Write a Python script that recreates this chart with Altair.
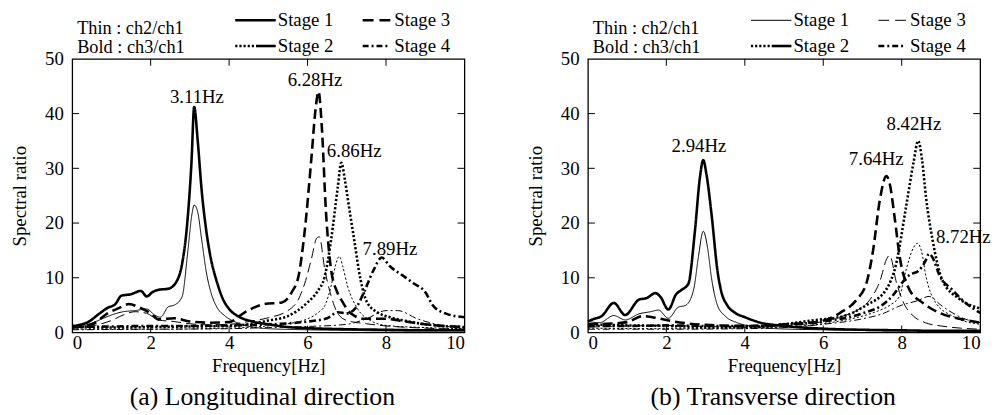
import altair as alt
import pandas as pd

FONT = "Liberation Serif"
W, H = 397, 277

STAGES = ["Stage 1", "Stage 2", "Stage 3", "Stage 4"]
DASHES = [[1, 0], [2.2, 2], [10, 5], [7, 3, 2, 3]]
KINDS = ["thin", "bold"]
WIDTHS = [1.0, 2.6]
XTICKS = [0, 2, 4, 6, 8, 10]
YTICKS = [0, 10, 20, 30, 40, 50]

# ---------------- (a) Longitudinal direction ----------------
A_S1_BOLD_F = [0, 0.2, 0.4, 0.7, 0.9, 1.1, 1.25, 1.5, 1.75, 1.9, 2.05, 2.2, 2.45, 2.65, 2.8, 2.92, 3.04, 3.11, 3.2, 3.3, 3.42, 3.55, 3.67, 3.85, 4.0, 4.25, 4.6, 5.0, 5.5, 6.0, 7.0, 8.0, 9.0, 10.0]
A_S1_BOLD_V = [1.2, 1.4, 1.9, 3.5, 4.5, 5.2, 6.7, 7.0, 7.6, 6.6, 7.4, 7.8, 8.0, 9.2, 12.5, 19.0, 31.0, 41.2, 35.0, 26.0, 18.5, 13.0, 9.7, 6.0, 4.3, 2.9, 2.0, 1.5, 1.0, 0.8, 0.6, 0.5, 0.4, 0.4]
A_S1_THIN_F = [0, 0.3, 0.6, 1.0, 1.3, 1.6, 1.9, 2.1, 2.25, 2.45, 2.6, 2.8, 2.95, 3.05, 3.11, 3.2, 3.3, 3.42, 3.55, 3.7, 3.9, 4.2, 4.6, 5.0, 6.0, 7.0, 8.0, 10.0]
A_S1_THIN_V = [0.8, 1.2, 2.0, 3.2, 3.8, 4.0, 4.3, 3.2, 2.8, 4.7, 5.0, 6.5, 15.0, 21.5, 23.3, 22.0, 17.0, 11.0, 7.0, 4.5, 3.0, 1.8, 1.0, 0.7, 0.5, 0.4, 0.3, 0.3]
A_S2_BOLD_F = [0, 1, 2, 3, 4, 4.5, 5.0, 5.5, 6.0, 6.25, 6.44, 6.6, 6.77, 6.86, 6.95, 7.02, 7.19, 7.35, 7.52, 7.78, 8.1, 8.45, 9.0, 10.0]
A_S2_BOLD_V = [1.0, 0.9, 1.0, 1.1, 1.2, 1.5, 2.2, 3.0, 5.5, 7.5, 10.3, 16.9, 26.5, 31.0, 28.0, 24.7, 16.9, 9.7, 5.5, 3.7, 2.8, 2.2, 1.5, 1.0]
A_S2_THIN_F = [0, 2, 4, 5.0, 5.5, 6.0, 6.3, 6.44, 6.6, 6.72, 6.81, 6.9, 7.02, 7.27, 7.6, 8.0, 9.0, 10.0]
A_S2_THIN_V = [0.6, 0.6, 0.8, 1.2, 1.6, 2.5, 3.8, 4.9, 8.5, 12.5, 13.9, 12.0, 8.5, 4.4, 2.2, 1.3, 0.9, 0.7]
A_S3_BOLD_F = [0, 0.5, 0.9, 1.2, 1.45, 1.7, 2.0, 2.2, 2.6, 3.0, 3.5, 4.0, 4.4, 4.9, 5.35, 5.6, 5.77, 5.93, 6.1, 6.2, 6.28, 6.36, 6.47, 6.6, 6.75, 6.9, 7.1, 7.45, 8.0, 8.5, 9.0, 10.0]
A_S3_BOLD_V = [1.0, 1.5, 3.5, 4.5, 5.2, 4.6, 3.5, 2.4, 2.6, 2.0, 1.8, 1.9, 3.7, 5.2, 5.5, 7.4, 10.3, 18.7, 32.0, 40.5, 44.0, 38.0, 22.0, 11.5, 7.5, 5.5, 3.5, 2.5, 2.5, 2.0, 1.5, 1.0]
A_S3_THIN_F = [0, 0.5, 1.0, 1.3, 1.6, 1.9, 2.2, 2.6, 3.0, 3.5, 4.0, 4.5, 5.0, 5.5, 5.77, 5.93, 6.1, 6.23, 6.3, 6.44, 6.6, 6.77, 7.0, 7.5, 8.0, 9.0, 10.0]
A_S3_THIN_V = [0.8, 1.2, 2.2, 3.2, 3.8, 3.5, 2.3, 2.0, 1.6, 1.4, 1.5, 2.0, 2.7, 4.0, 6.1, 9.0, 13.5, 17.2, 17.5, 11.5, 6.7, 3.5, 2.2, 1.6, 1.2, 0.8, 0.6]
A_S4_BOLD_F = [0, 1, 2, 3, 4, 5.0, 6.0, 6.5, 6.77, 7.0, 7.27, 7.44, 7.69, 7.89, 8.1, 8.45, 8.7, 9.0, 9.2, 9.55, 10.0]
A_S4_BOLD_V = [1.0, 1.1, 1.2, 1.2, 1.3, 1.5, 2.0, 2.6, 3.7, 3.5, 4.9, 7.4, 11.5, 13.7, 12.1, 10.3, 9.0, 7.4, 4.9, 3.4, 2.8]
A_S4_THIN_F = [0, 2, 4, 5, 6, 7.0, 7.5, 8.0, 8.3, 8.8, 9.5, 10.0]
A_S4_THIN_V = [0.5, 0.6, 0.7, 0.9, 1.1, 1.5, 2.5, 4.0, 4.0, 2.5, 1.2, 0.8]

A_ANN_LABELS = ["3.11Hz", "6.28Hz", "6.86Hz", "7.89Hz"]
A_ANN_F = [3.18, 6.19, 7.19, 8.1]
A_ANN_V = [43.0, 46.2, 33.1, 15.3]

# ---------------- (b) Transverse direction ----------------
B_S1_BOLD_F = [0, 0.12, 0.35, 0.66, 0.95, 1.3, 1.5, 1.72, 1.85, 2.05, 2.25, 2.39, 2.56, 2.73, 2.85, 2.94, 3.02, 3.15, 3.31, 3.4, 3.55, 3.75, 4.0, 4.4, 5.0, 6.0, 7.0, 8.0, 9.0, 10.0]
B_S1_BOLD_V = [2.0, 2.4, 3.0, 5.4, 3.2, 6.0, 6.3, 7.2, 6.5, 4.2, 7.0, 7.8, 8.9, 18.7, 28.0, 31.5, 29.0, 21.7, 10.9, 7.5, 5.0, 3.6, 2.8, 1.8, 1.2, 0.7, 0.5, 0.4, 0.3, 0.3]
B_S1_THIN_F = [0, 0.3, 0.66, 0.95, 1.3, 1.6, 1.8, 2.05, 2.3, 2.5, 2.7, 2.82, 2.94, 3.05, 3.15, 3.3, 3.5, 3.8, 4.2, 4.8, 6.0, 8.0, 10.0]
B_S1_THIN_V = [2.0, 1.8, 3.1, 2.3, 3.4, 3.8, 4.1, 2.6, 4.6, 5.0, 8.0, 14.0, 18.5, 15.5, 10.0, 5.0, 3.0, 1.8, 1.1, 0.7, 0.5, 0.3, 0.3]
B_S2_BOLD_F = [0, 1, 2, 3, 4, 5, 5.7, 6.52, 7.1, 7.6, 7.86, 8.11, 8.3, 8.42, 8.52, 8.62, 8.79, 9.04, 9.46, 10.0]
B_S2_BOLD_V = [1.5, 1.3, 1.2, 1.0, 1.0, 1.5, 2.2, 3.0, 5.0, 7.8, 12.6, 22.9, 31.0, 35.0, 31.5, 24.7, 16.8, 9.5, 6.2, 4.4]
B_S2_THIN_F = [0, 2, 4, 5.0, 6.0, 6.5, 7.0, 7.38, 7.7, 7.94, 8.11, 8.3, 8.4, 8.5, 8.62, 8.87, 9.3, 10.0]
B_S2_THIN_V = [0.8, 0.7, 0.8, 1.0, 1.6, 2.2, 3.0, 3.9, 5.0, 6.6, 11.4, 15.5, 16.3, 15.0, 10.2, 5.4, 3.0, 1.5]
B_S3_BOLD_F = [0, 0.5, 1.0, 1.4, 1.8, 2.2, 3.0, 4.0, 5.0, 5.88, 6.43, 6.85, 7.1, 7.27, 7.44, 7.61, 7.7, 7.82, 7.95, 8.2, 8.54, 8.96, 9.55, 10.0]
B_S3_BOLD_V = [1.5, 1.6, 1.9, 3.0, 2.6, 2.0, 1.4, 1.2, 1.5, 2.0, 3.6, 6.0, 9.0, 15.0, 24.1, 28.6, 27.0, 21.0, 13.8, 7.8, 5.4, 3.6, 2.4, 1.8]
B_S3_THIN_F = [0, 1, 2, 3, 4, 5.0, 5.5, 6.0, 6.5, 6.9, 7.19, 7.45, 7.62, 7.69, 7.87, 8.05, 8.3, 8.6, 9.0, 9.5, 10.0]
B_S3_THIN_V = [1.0, 1.2, 1.3, 1.1, 1.0, 1.2, 1.5, 2.0, 3.0, 4.2, 6.0, 9.5, 13.5, 14.1, 9.0, 5.4, 3.0, 1.8, 1.2, 0.8, 0.6]
B_S4_BOLD_F = [0, 1, 2, 3, 4, 5.0, 6.0, 7.0, 7.5, 7.8, 8.0, 8.2, 8.45, 8.6, 8.7, 8.8, 8.96, 9.29, 9.63, 10.0]
B_S4_BOLD_V = [1.2, 1.2, 1.3, 1.2, 1.2, 1.4, 2.0, 3.5, 5.0, 7.0, 9.0, 10.5, 11.4, 13.0, 14.4, 13.5, 10.5, 7.8, 5.4, 3.6]
B_S4_THIN_F = [0, 2, 4, 5, 6, 7.0, 7.5, 8.0, 8.4, 8.7, 9.0, 9.2, 9.6, 10.0]
B_S4_THIN_V = [0.6, 0.6, 0.7, 0.9, 1.5, 2.5, 3.4, 5.0, 5.8, 6.6, 5.0, 4.0, 2.5, 1.8]

B_ANN_LABELS = ["2.94Hz", "7.64Hz", "8.42Hz", "8.72Hz"]
B_ANN_F = [2.83, 7.35, 8.31, 9.57]
B_ANN_V = [34.0, 31.7, 38.0, 17.4]


def series_df(items):
    rows = []
    for stage, kind, fs, vs in items:
        for f, v in zip(fs, vs):
            rows.append({"f": f, "v": v, "stage": stage, "kind": kind,
                         "sid": stage + "-" + kind})
    return pd.DataFrame(rows)


A_DF = series_df([
    ("Stage 1", "bold", A_S1_BOLD_F, A_S1_BOLD_V),
    ("Stage 1", "thin", A_S1_THIN_F, A_S1_THIN_V),
    ("Stage 2", "bold", A_S2_BOLD_F, A_S2_BOLD_V),
    ("Stage 2", "thin", A_S2_THIN_F, A_S2_THIN_V),
    ("Stage 3", "bold", A_S3_BOLD_F, A_S3_BOLD_V),
    ("Stage 3", "thin", A_S3_THIN_F, A_S3_THIN_V),
    ("Stage 4", "bold", A_S4_BOLD_F, A_S4_BOLD_V),
    ("Stage 4", "thin", A_S4_THIN_F, A_S4_THIN_V),
])
B_DF = series_df([
    ("Stage 1", "bold", B_S1_BOLD_F, B_S1_BOLD_V),
    ("Stage 1", "thin", B_S1_THIN_F, B_S1_THIN_V),
    ("Stage 2", "bold", B_S2_BOLD_F, B_S2_BOLD_V),
    ("Stage 2", "thin", B_S2_THIN_F, B_S2_THIN_V),
    ("Stage 3", "bold", B_S3_BOLD_F, B_S3_BOLD_V),
    ("Stage 3", "thin", B_S3_THIN_F, B_S3_THIN_V),
    ("Stage 4", "bold", B_S4_BOLD_F, B_S4_BOLD_V),
    ("Stage 4", "thin", B_S4_THIN_F, B_S4_THIN_V),
])
A_ANN = pd.DataFrame({"f": A_ANN_F, "v": A_ANN_V, "label": A_ANN_LABELS})
B_ANN = pd.DataFrame({"f": B_ANN_F, "v": B_ANN_V, "label": B_ANN_LABELS})

ONE = pd.DataFrame({"k": [0]})


def legend_layers(weights):
    """weights: stroke widths for the samples of Stage 1..4"""
    layers = []
    y1, y2 = -39, -13
    xa0, xa1 = 165, 206
    xb0, xb1 = 294, 322
    for txt, yy in [("Thin : ch2/ch1", -31), ("Bold : ch3/ch1", -11.5)]:
        layers.append(alt.Chart(pd.DataFrame({"t": [txt]})).mark_text(
            font=FONT, fontSize=18.5, align="left", baseline="middle", color="black"
        ).encode(text="t:N", x=alt.value(5), y=alt.value(yy)))
    layers.append(alt.Chart(ONE).mark_rule(color="black", strokeWidth=weights[0]).encode(
        x=alt.value(xa0), x2=alt.value(xa1), y=alt.value(y1)))
    layers.append(alt.Chart(ONE).mark_rule(color="black", strokeWidth=2.6, strokeDash=[2.2, 2]).encode(
        x=alt.value(xa0), x2=alt.value(xa0 + 21), y=alt.value(y2)))
    layers.append(alt.Chart(ONE).mark_rule(color="black", strokeWidth=2.6).encode(
        x=alt.value(xa0 + 21), x2=alt.value(xa1), y=alt.value(y2)))
    layers.append(alt.Chart(ONE).mark_rule(color="black", strokeWidth=weights[2], strokeDash=[11, 6]).encode(
        x=alt.value(xb0), x2=alt.value(xb1), y=alt.value(y1)))
    layers.append(alt.Chart(ONE).mark_rule(color="black", strokeWidth=2.6, strokeDash=[6, 3, 2, 3]).encode(
        x=alt.value(xb0), x2=alt.value(xb1), y=alt.value(y2)))
    for lab, xx, yy in [(STAGES[0], xa1 + 2, y1), (STAGES[1], xa1 + 2, y2),
                        (STAGES[2], xb1 + 4, y1), (STAGES[3], xb1 + 4, y2)]:
        layers.append(alt.Chart(pd.DataFrame({"t": [lab]})).mark_text(
            font=FONT, fontSize=19, align="left", baseline="middle", color="black"
        ).encode(text="t:N", x=alt.value(xx), y=alt.value(yy)))
    return layers


def axis(values, title, lp, tp):
    return alt.Axis(values=values, title=title, labelPadding=lp, titlePadding=tp, format="d",
                    labelFont=FONT, titleFont=FONT, labelFontSize=19, titleFontSize=19,
                    labelColor="black", titleColor="black", titleFontWeight="normal",
                    ticks=False, domain=False, grid=False)


def panel(df, ann, caption, dx, weights):
    xs = alt.Scale(domain=[0, 10], nice=False)
    ys = alt.Scale(domain=[0, 50], nice=False)
    lines = alt.Chart(df).mark_line(interpolate="monotone", color="black", strokeCap="butt",
                                    strokeJoin="round").encode(
        x=alt.X("f:Q", scale=xs, axis=axis(XTICKS, "Frequency[Hz]", 1, 4)),
        y=alt.Y("v:Q", scale=ys, axis=axis(YTICKS, "Spectral ratio", 9, 15)),
        detail="sid:N",
        strokeDash=alt.StrokeDash("stage:N", scale=alt.Scale(domain=STAGES, range=DASHES), legend=None),
        strokeWidth=alt.StrokeWidth("kind:N", scale=alt.Scale(domain=KINDS, range=WIDTHS), legend=None),
    )
    texts = alt.Chart(ann).mark_text(font=FONT, fontSize=19, color="black", baseline="middle").encode(
        x=alt.X("f:Q", scale=xs), y=alt.Y("v:Q", scale=ys), text="label:N")
    xt = pd.DataFrame({"f": XTICKS[1:-1]})
    yt = pd.DataFrame({"v": YTICKS[1:-1]})
    tick_layers = [
        alt.Chart(xt).mark_rule(color="black", strokeWidth=1).encode(
            x=alt.X("f:Q", scale=xs), y=alt.value(H), y2=alt.value(H - 7)),
        alt.Chart(xt).mark_rule(color="black", strokeWidth=1).encode(
            x=alt.X("f:Q", scale=xs), y=alt.value(0), y2=alt.value(7)),
        alt.Chart(yt).mark_rule(color="black", strokeWidth=1).encode(
            y=alt.Y("v:Q", scale=ys), x=alt.value(0), x2=alt.value(7)),
        alt.Chart(yt).mark_rule(color="black", strokeWidth=1).encode(
            y=alt.Y("v:Q", scale=ys), x=alt.value(W), x2=alt.value(W - 7)),
    ]
    return alt.layer(lines, texts, *tick_layers, *legend_layers(weights)).properties(
        width=W, height=H,
        title=alt.TitleParams(caption, orient="bottom", fontSize=26, font=FONT,
                              fontWeight="normal", anchor="middle", frame="group",
                              dx=dx, offset=9, color="black"),
    )


left = panel(A_DF, A_ANN, "(a) Longitudinal direction", -6, [2.6, 2.6, 2.6, 2.6])
right = panel(B_DF, B_ANN, "(b) Transverse direction", -11, [1.0, 2.6, 1.0, 2.6])

chart = alt.hconcat(left, right, spacing=60).properties(
    padding={"left": 2, "top": 0, "right": 0, "bottom": 0},
    background="white",
).configure_view(stroke="black", strokeWidth=1.3)

chart.save("out.html", embed_options={"renderer": "svg", "actions": False})
